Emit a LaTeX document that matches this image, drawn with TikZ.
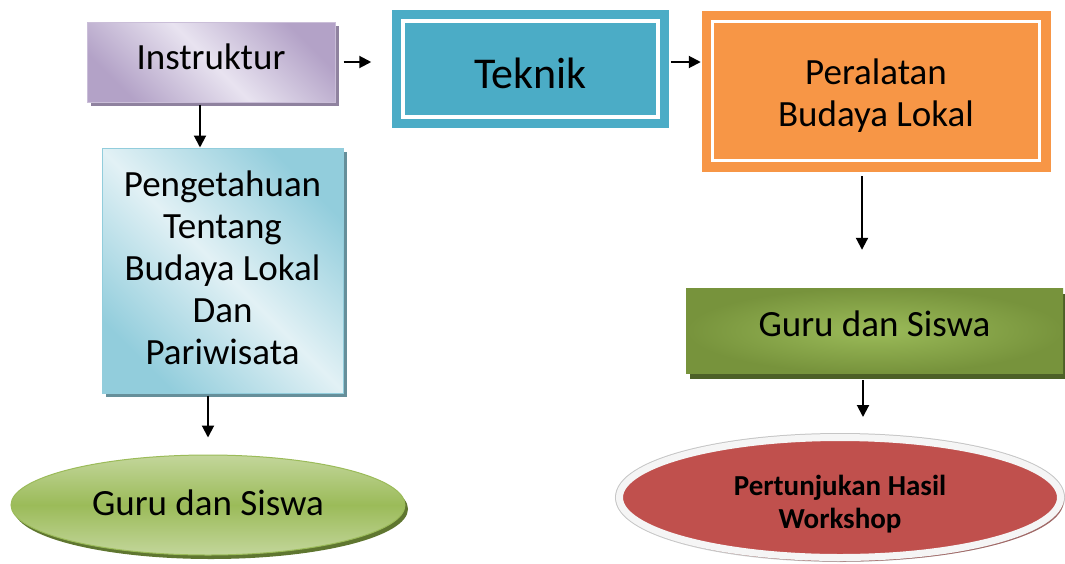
\documentclass[tikz,border=0pt]{standalone}
\usepackage{fontspec}
\setmainfont{Carlito}
\usepackage{tikz}
\usetikzlibrary{arrows.meta,calc,shapes.geometric,shadows}
\definecolor{clrungu}{HTML}{B3A2C7}
\definecolor{clrungumuda}{HTML}{E8E3F0}
\definecolor{clrbiru}{HTML}{92CDDC}
\definecolor{clrbirumuda}{HTML}{E2F1F5}
\definecolor{clrteal}{HTML}{4BACC6}
\definecolor{clroranye}{HTML}{F79646}
\definecolor{clrhijau}{HTML}{9BBB59}
\definecolor{clrhijaumuda}{HTML}{C3D69B}
\definecolor{clrhijautua}{HTML}{77933C}
\definecolor{clrmerah}{HTML}{C0504D}

\begin{document}
\begin{tikzpicture}[x=1pt, y=-1pt,
    teks/.style={font=\fontsize{37}{42}\selectfont, align=center},
    kotak/.style={rectangle, inner sep=0pt, teks},
    bingkai/.style={kotak, fill=#1, draw=white, line width=3.5pt,
        preaction={draw=#1, line width=22pt}},
    panah/.style={-{Triangle[length=12pt,width=12pt]}, line width=2pt},
]
    \useasboundingbox (0,0) rectangle (1065,563);

    \node[kotak, minimum width=248pt, minimum height=80pt, draw=clrungu!70, line width=1pt,
        top color=clrungu, bottom color=clrungu, middle color=clrungumuda, shading angle=-45,
        drop shadow={shadow xshift=4pt, shadow yshift=-4pt, fill=clrungu!80!black, opacity=1}]
        (instruktur) at (211,62) {Instruktur\rule[-10pt]{0pt}{10pt}};
    \node[bingkai=clrteal, minimum width=255pt, minimum height=96pt, font=\fontsize{44}{50}\selectfont]
        (teknik) at (530.5,69) {\rule{0pt}{39pt}Teknik};
    \node[bingkai=clroranye, minimum width=327pt, minimum height=139pt]
        (peralatan) at (876,91) {\rule{0pt}{34pt}Peralatan\\Budaya Lokal};
    \node[kotak, minimum width=241pt, minimum height=245pt, draw=clrbiru, line width=1pt,
        top color=clrbiru, bottom color=clrbiru, middle color=clrbirumuda, shading angle=-45,
        drop shadow={shadow xshift=4pt, shadow yshift=-4pt, fill=clrbiru!70!black, opacity=1}]
        (pengetahuan) at (222.5,270.5) {Pengetahuan\\Tentang\\Budaya Lokal\\Dan\\Pariwisata\rule[-6pt]{0pt}{6pt}};
    \node[ellipse, inner sep=0pt, teks, minimum width=394pt, minimum height=100pt,
        draw=clrhijau, line width=1pt,
        top color=clrhijaumuda, bottom color=clrhijaumuda, middle color=clrhijau,
        drop shadow={shadow xshift=3pt, shadow yshift=-4pt, fill=clrhijautua!80!black, opacity=1}]
        (gurukiri) at (208,505) {Guru dan Siswa\rule[-4pt]{0pt}{4pt}};
    \node[kotak, minimum width=377pt, minimum height=85pt,
        inner color=clrhijau, outer color=clrhijautua,
        drop shadow={shadow xshift=4pt, shadow yshift=-6pt, fill=clrhijautua!65!black, opacity=1}]
        (gurukanan) at (874.5,330.5) {Guru dan Siswa\rule[-14pt]{0pt}{14pt}};
    \node[ellipse, inner sep=0pt, minimum width=441pt, minimum height=120pt,
        fill=clrmerah, draw=gray!8, line width=7pt,
        preaction={draw=gray!45, line width=9pt},
        drop shadow={shadow xshift=3pt, shadow yshift=-4pt, fill=clrmerah!50!gray, opacity=1},
        font=\fontsize{29}{33}\selectfont\bfseries, align=center]
        (pertunjukan) at (840,497.5) {\rule{0pt}{34pt}Pertunjukan Hasil\\Workshop};

    \coordinate (turun1) at ($(instruktur.south)+(-11,0)$);
    \coordinate (turun2) at ($(peralatan.south)+(-14,0)$);
    \coordinate (turun3) at ($(gurukanan.south)+(-11.5,0)$);

    \draw[panah, shorten <=8pt, shorten >=30pt] (instruktur.east) -- (instruktur.east -| teknik.west);
    \draw[panah, shorten <=11pt, shorten >=10pt] (teknik.east |- instruktur.east) -- (peralatan.west |- instruktur.east);
    \draw[panah, shorten <=2pt] (turun1) -- (turun1 |- pengetahuan.north);
    \draw[panah, shorten <=2pt, shorten >=17pt] (pengetahuan.south -| gurukiri.north) -- (gurukiri.north);
    \draw[panah, shorten <=14pt, shorten >=38pt] (turun2) -- (turun2 |- gurukanan.north);
    \draw[panah, shorten <=7pt, shorten >=17pt] (turun3) -- (turun3 |- pertunjukan.north);
\end{tikzpicture}
\end{document}
